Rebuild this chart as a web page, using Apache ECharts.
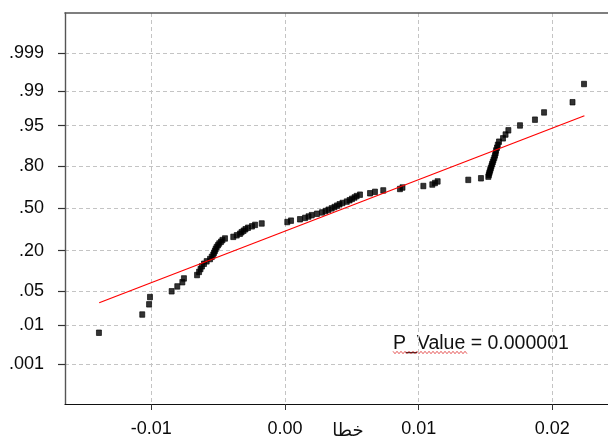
<!DOCTYPE html>
<html><head><meta charset="utf-8">
<script src="https://cdn.jsdelivr.net/npm/echarts@6/dist/echarts.min.js"></script>
<style>html,body{margin:0;padding:0;background:#fff}#c{width:608px;height:442px}</style>
</head><body><div id="c"></div>
<script>
// Residuals (x), sorted
const residuals = [
  -0.01392, -0.01068, -0.01017, -0.01010, -0.00848, -0.00806, -0.00768, -0.00756, -0.00658, -0.00643,
  -0.00632, -0.00621, -0.00606, -0.00586, -0.00561, -0.00548, -0.00537, -0.00531, -0.00524, -0.00518,
  -0.00511, -0.00501, -0.00492, -0.00479, -0.00468, -0.00449, -0.00387, -0.00361, -0.00337, -0.00325,
  -0.00310, -0.00296, -0.00277, -0.00247, -0.00224, -0.00174, 0.00017, 0.00045, 0.00112, 0.00150,
  0.00176, 0.00200, 0.00239, 0.00277, 0.00303, 0.00325, 0.00349, 0.00370, 0.00389, 0.00408,
  0.00430, 0.00462, 0.00483, 0.00501, 0.00520, 0.00536, 0.00561, 0.00636, 0.00673, 0.00735,
  0.00860, 0.00879, 0.01035, 0.01102, 0.01122, 0.01142, 0.01371, 0.01466, 0.01521, 0.01525,
  0.01528, 0.01532, 0.01536, 0.01540, 0.01545, 0.01549, 0.01555, 0.01560, 0.01566, 0.01571,
  0.01576, 0.01579, 0.01586, 0.01592, 0.01601, 0.01631, 0.01650, 0.01671, 0.01758, 0.01870,
  0.01938, 0.02151, 0.02237
];
// Cumulative probability (%) of each point
const cumPercent = [
  0.67, 1.74, 2.82, 3.89, 4.96, 6.03, 7.10, 8.18, 9.25, 10.32,
  11.39, 12.47, 13.54, 14.61, 15.68, 16.76, 17.83, 18.90, 19.97, 21.05,
  22.12, 23.19, 24.26, 25.34, 26.41, 27.48, 28.55, 29.62, 30.70, 31.77,
  32.84, 33.91, 34.99, 36.06, 37.13, 38.20, 39.28, 40.35, 41.42, 42.49,
  43.57, 44.64, 45.71, 46.78, 47.86, 48.93, 50.00, 51.07, 52.14, 53.22,
  54.29, 55.36, 56.43, 57.51, 58.58, 59.65, 60.72, 61.80, 62.87, 63.94,
  65.01, 66.09, 67.16, 68.23, 69.30, 70.38, 71.45, 72.52, 73.59, 74.66,
  75.74, 76.81, 77.88, 78.95, 80.03, 81.10, 82.17, 83.24, 84.32, 85.39,
  86.46, 87.53, 88.61, 89.68, 90.75, 91.82, 92.90, 93.97, 95.04, 96.11,
  97.18, 98.26, 99.33
];
// Fitted line end points
const fitX = [-0.0139, 0.0224];
const fitPercent = [3.03, 96.72];

const xTicks = [-0.01, 0, 0.01, 0.02];
const xTickLabels = ['-0.01', '0.00', '0.01', '0.02'];
const yTickProbs = [0.001, 0.01, 0.05, 0.20, 0.50, 0.80, 0.95, 0.99, 0.999];
const yTickLabels = ['.001', '.01', '.05', '.20', '.50', '.80', '.95', '.99', '.999'];
const axisName = 'خطا';
const annotation = 'P_Value = 0.000001';

// Inverse standard normal CDF (Acklam) - the probability-axis scale
function normInv(p) {
  const a = [-3.969683028665376e+01, 2.209460984245205e+02, -2.759285104469687e+02, 1.383577518672690e+02, -3.066479806614716e+01, 2.506628277459239e+00];
  const b = [-5.447609879822406e+01, 1.615858368580409e+02, -1.556989798598866e+02, 6.680131188771972e+01, -1.328068155288572e+01];
  const c = [-7.784894002430293e-03, -3.223964580411365e-01, -2.400758277161838e+00, -2.549732539343734e+00, 4.374664141464968e+00, 2.938163982698783e+00];
  const d = [7.784695709041462e-03, 3.224671290700398e-01, 2.445134137142996e+00, 3.754408661907416e+00];
  const plow = 0.02425, phigh = 1 - plow;
  let q, r;
  if (p < plow) {
    q = Math.sqrt(-2 * Math.log(p));
    return (((((c[0]*q+c[1])*q+c[2])*q+c[3])*q+c[4])*q+c[5]) / ((((d[0]*q+d[1])*q+d[2])*q+d[3])*q+1);
  }
  if (p > phigh) {
    q = Math.sqrt(-2 * Math.log(1 - p));
    return -(((((c[0]*q+c[1])*q+c[2])*q+c[3])*q+c[4])*q+c[5]) / ((((d[0]*q+d[1])*q+d[2])*q+d[3])*q+1);
  }
  q = p - 0.5; r = q * q;
  return (((((a[0]*r+a[1])*r+a[2])*r+a[3])*r+a[4])*r+a[5])*q / (((((b[0]*r+b[1])*r+b[2])*r+b[3])*r+b[4])*r+1);
}

const yTickZ = yTickProbs.map(normInv);
const points = residuals.map((x, i) => [x, normInv(cumPercent[i] / 100)]);
const fitLine = fitX.map((x, i) => [x, normInv(fitPercent[i] / 100)]);

const FONT = "'Liberation Sans', Arial, sans-serif";
const grid = { left: 65, right: 0, top: 13, bottom: 38 };
const xMin = -0.016459, xMax = 0.024164;

// squiggly underline decoration under "P_Value"
const sq = [];
for (let k = 0; k <= 37; k++) sq.push([393 + k * 2, 352.5 + (k % 2 ? 1.2 : -1.2)]);

const chart = echarts.init(document.getElementById('c'), null, { renderer: 'canvas' });
chart.setOption({
  animation: false,
  backgroundColor: '#fff',
  grid: grid,
  xAxis: [{
    type: 'value', min: xMin, max: xMax, position: 'bottom',
    axisLine: { show: true, onZero: false, lineStyle: { color: '#111', width: 1.2 } },
    axisTick: { show: true, customValues: xTicks, length: 6, lineStyle: { color: '#333' } },
    axisLabel: {
      customValues: xTicks, margin: 16, color: '#0a0a0a', fontSize: 18, fontFamily: FONT,
      formatter: v => { const i = xTicks.findIndex(t => Math.abs(t - v) < 1e-9); return i >= 0 ? xTickLabels[i] : ''; }
    },
    splitLine: { show: true, lineStyle: { color: '#c4c4c4', type: [4, 3], width: 1 } }
  }, {
    type: 'value', min: xMin, max: xMax, position: 'top',
    axisLine: { show: true, onZero: false, lineStyle: { color: '#555', width: 1.6 } },
    axisTick: { show: false }, axisLabel: { show: false }, splitLine: { show: false }
  }],
  yAxis: {
    type: 'value', min: -3.89, max: 3.885,
    axisLine: { show: true, onZero: false, lineStyle: { color: '#555', width: 1.4 } },
    axisTick: { show: true, customValues: yTickZ, length: 7, lineStyle: { color: '#333', width: 1.2 } },
    axisLabel: {
      customValues: yTickZ, margin: 21, color: '#0a0a0a', fontSize: 18, fontFamily: FONT,
      formatter: v => { const i = yTickZ.findIndex(t => Math.abs(t - v) < 1e-6); return i >= 0 ? yTickLabels[i] : ''; }
    },
    splitLine: { show: true, lineStyle: { color: '#c4c4c4', type: [4, 3], width: 1 } }
  },
  series: [{
    type: 'scatter', data: points, symbol: 'rect', symbolSize: [5, 5.5],
    itemStyle: { color: '#000', borderColor: '#000', borderWidth: 0.8 }, z: 3
  }, {
    type: 'line', data: fitLine, symbol: 'none', z: 4,
    lineStyle: { color: '#ff0000', width: 1.2 }
  }],
  graphic: [{
    type: 'text', left: 393, top: 334,
    style: { text: annotation, font: "19.5px " + FONT, fill: '#111' }
  }, {
    type: 'polyline', shape: { points: sq },
    style: { stroke: '#e03030', lineWidth: 0.8, fill: null }
  }, {
    type: 'text', x: 348, y: 431,
    style: { text: axisName, font: "18px 'DejaVu Sans', sans-serif", fill: '#111', align: 'center', verticalAlign: 'middle' }
  }]
});
</script></body></html>
